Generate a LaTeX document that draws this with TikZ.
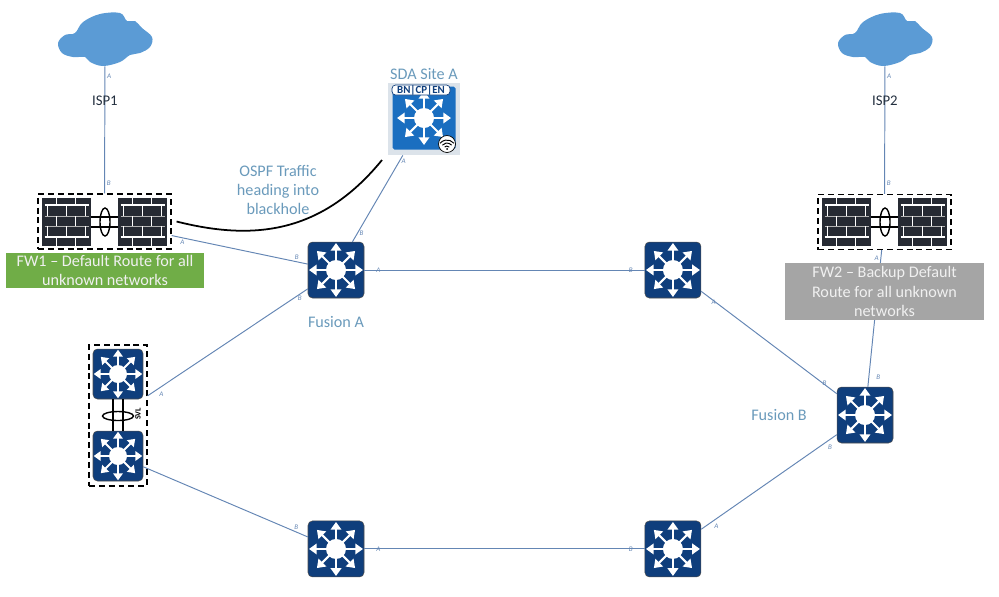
\documentclass[tikz,border=0pt]{standalone}
\usepackage{fontspec}
\setmainfont{Carlito}
\usepackage{tikz}
\usetikzlibrary{arrows.meta,shapes}

\definecolor{navy}{HTML}{0F3E7C}
\definecolor{sitebl}{HTML}{1A6EC0}
\definecolor{linkcol}{HTML}{6486B4}
\definecolor{textcol}{HTML}{6A9ABB}
\definecolor{cloudbl}{HTML}{5B9BD5}
\definecolor{brickcol}{HTML}{262A33}
\definecolor{notegreen}{HTML}{70AD47}
\definecolor{notegrey}{HTML}{A5A5A5}
\definecolor{sitebg}{HTML}{DCE3EA}

% eight arrows out of a white hub, #1 scales them to the box
\newcommand{\hubarrows}[1]{
	\begin{scope}[shift={(path picture bounding box.center)}]
		\fill[white] (0,0) circle (#1*10);
		\foreach \ang in {0,45,...,315}
			\draw[white,line width=#1*1.2pt,-{Triangle[length=#1*4.4pt,width=#1*6pt]}] (\ang:#1*9) -- (\ang:#1*27);
	\end{scope}
}
% brick courses of one firewall wall
\newcommand{\brickcourses}{
	\begin{scope}[shift={(path picture bounding box.center)},white]
		\foreach \yy in {-17,15}
			\draw[line width=.8pt] (-22,\yy) -- (22,\yy);
		\foreach \yy in {-6,4}
			\draw[white!70!black,line width=.5pt] (-22,\yy) -- (22,\yy);
		\foreach \yy/\yb in {-24/-17,-6/4,15/24}
			\foreach \xx in {-10,9}
				\draw[line width=.6pt] (\xx,\yy) -- (\xx,\yb);
		\foreach \yy/\yb in {-17/-6,4/15}
			\foreach \xx in {-19,0,19}
				\draw[line width=.6pt] (\xx,\yy) -- (\xx,\yb);
	\end{scope}
}
% outline of an internet cloud round the node #1
\newcommand{\cloudblob}[1]{
	\fill [cloudbl,shift={(#1.center)}] plot [smooth cycle,tension=.6] coordinates {(-47,4) (-40,-4) (-30,-6) (-22,-17) (-5,-25) (15,-26) (22,-18) (30,-18) (37,-11) (47,-2) (45,8) (35,14) (25,16) (15,23) (-2,27) (-15,23) (-20,18) (-32,18) (-43,14)};
}

\begin{document}
\begin{tikzpicture}[x=.02cm,y=-.02cm,node distance=2cm]

	\tikzstyle{switch}=[rectangle,rounded corners=2.5pt,fill=navy,draw=black!70,line width=.3pt,minimum size=1.12cm,inner sep=0pt,path picture={\hubarrows{1}}]
	\tikzstyle{svlswitch}=[switch,minimum size=1cm,path picture={\hubarrows{.9}}]
	\tikzstyle{bricks}=[rectangle,fill=brickcol,minimum width=.98cm,minimum height=.96cm,inner sep=0pt,path picture={\brickcourses}]
	\tikzstyle{dashbox}=[rectangle,draw=black,line width=.7pt,dash pattern=on 3.4pt off 2.2pt,inner sep=0pt]
	\tikzstyle{fwbox}=[dashbox,minimum width=2.66cm,minimum height=1.1cm]
	\tikzstyle{loopmark}=[ellipse,draw=black,line width=.8pt,inner sep=0pt]
	\tikzstyle{tie}=[draw=black,line width=.8pt]
	\tikzstyle{link}=[draw=linkcol,line width=.55pt]
	\tikzstyle{isp}=[rectangle,inner sep=0pt,minimum width=1.9cm,minimum height=1.08cm]
	\tikzstyle{ispname}=[font=\fontsize{8.4}{10}\selectfont,text=black!65!linkcol]
	\tikzstyle{tag}=[font=\fontsize{4}{4}\selectfont\itshape,text=linkcol,inner sep=1pt]
	\tikzstyle{caption}=[font=\fontsize{9.2}{11}\selectfont,text=textcol,align=center,inner sep=0pt]
	\tikzstyle{note}=[rectangle,font=\fontsize{9.2}{11}\selectfont,text=white!94!black,align=center,inner sep=0pt,minimum width=3.98cm]

	\useasboundingbox (0,0) rectangle (999,596);

	% switches of the ring
	\node [switch] (fusiona) at (336,270) {};
	\node [switch,node distance=6.74cm] (acctop) [right of=fusiona] {};
	\node [switch,node distance=5.58cm] (accleft) [below of=fusiona] {};
	\node [switch,node distance=6.74cm] (accright) [right of=accleft] {};
	\node [switch] (fusionb) at (865,415) {}
		edge [link] node [tag,pos=.06,above left] {B} node [tag,pos=.94,below right] {A} (acctop)
		edge [link] node [tag,pos=.08,below right] {B} node [tag,pos=.92,below right] {A} (accright);
	\node [caption,node distance=1.04cm] (fusionalabel) [below of=fusiona] {Fusion A};
	\node [caption,node distance=1.72cm] (fusionblabel) [left of=fusionb] {Fusion B};

	\path (fusiona) edge [link] node [tag,pos=.05] {A} node [tag,pos=.95] {B} (acctop);
	\path (accleft) edge [link] node [tag,pos=.05] {A} node [tag,pos=.95] {B} (accright);

	% stacked pair on the left
	\node [svlswitch] (svltop) at (118,374) {};
	\node [svlswitch] (svlbot) at (118,456) {};
	\node [dashbox,minimum width=1.16cm,minimum height=2.82cm] (svlbox) at (118,415.5) {}
		edge [link] node [tag,pos=.06,below right] {A} node [tag,pos=.95,below] {B} (fusiona);
	\path (svlbot) edge [link] node [tag,pos=.93,above] {B} (accleft);
	\draw [tie] ([xshift=-.1cm]svltop.south) -- ([xshift=-.1cm]svlbot.north);
	\draw [tie] ([xshift=.1cm]svltop.south) -- ([xshift=.1cm]svlbot.north);
	\node [loopmark,minimum width=.62cm,minimum height=.18cm] (svlloop) at (118,416) {};
	\node [font=\fontsize{4.6}{5}\bfseries\selectfont,rotate=90,inner sep=0pt] (svltext) at (138,414) {SVL};

	% firewall pairs
	\node [fwbox] (fw1) at (104.5,221.5) {}
		edge [link] node [tag,pos=.08,below] {A} node [tag,pos=.92,above] {B} (fusiona);
	\node [bricks] (fw1l) at (66.5,222) {};
	\node [bricks] (fw1r) at (142.5,222) {};
	\draw [tie] ([yshift=.1cm]fw1l.east) -- ([yshift=.1cm]fw1r.west);
	\draw [tie] ([yshift=-.1cm]fw1l.east) -- ([yshift=-.1cm]fw1r.west);
	\node [loopmark,minimum width=.2cm,minimum height=.56cm] (fw1loop) at (105,222) {};

	\node [fwbox] (fw2) at (884.5,222) {}
		edge [link] node [tag,pos=.06,left] {A} node [tag,pos=.93,right=3pt] {B} (fusionb);
	\node [bricks] (fw2l) at (846.5,222) {};
	\node [bricks] (fw2r) at (922.5,222) {};
	\draw [tie] ([yshift=.1cm]fw2l.east) -- ([yshift=.1cm]fw2r.west);
	\draw [tie] ([yshift=-.1cm]fw2l.east) -- ([yshift=-.1cm]fw2r.west);
	\node [loopmark,minimum width=.2cm,minimum height=.56cm] (fw2loop) at (885,222) {};

	% internet clouds
	\node [isp] (isp1) at (105,39) {}
		edge [link] node [pos=.27,ispname] {ISP1} node [tag,pos=.08,right] {A} node [tag,pos=.92,right] {B} (fw1);
	\cloudblob{isp1}
	\node [isp] (isp2) at (885,39) {}
		edge [link] node [pos=.27,ispname] {ISP2} node [tag,pos=.08,right] {A} node [tag,pos=.92,right] {B} (fw2);
	\cloudblob{isp2}

	% remote site
	\node [rectangle,fill=sitebg,minimum size=1.44cm,inner sep=0pt] (sda) at (424,119) {}
		edge [link] node [tag,pos=.07,right] {A} node [tag,pos=.9,right] {B} (fusiona);
	\node [switch,fill=sitebl,draw=none,rounded corners=1pt,minimum size=1.26cm] (sdaswitch) at (424,118) {};
	\node [rectangle,rounded corners=2pt,fill=white,draw=navy,line width=.4pt,minimum width=1.16cm,minimum height=.2cm,inner sep=0pt,font=\fontsize{6.2}{6.2}\bfseries\selectfont,text=navy] (sdaroles) at (421,90) {BN|CP|EN};
	\node [circle,fill=white,draw=black,line width=.4pt,minimum size=.34cm,inner sep=0pt] (sdawifi) at (447,144) {};
	\foreach \rad in {3,6,9}
		\draw [black,line width=.55pt] ([shift={(-40:\rad)}]447,149) arc (-40:-140:\rad);
	\fill [black] (447,149) circle (1);
	\node [caption,node distance=.9cm] (sdatitle) [above of=sda] {SDA Site A};

	% traffic path into the site
	\coordinate (holeend) at (382,160);
	\draw [black,line width=1pt] ([xshift=.1cm]fw1.east) .. controls (250,240) and (320,236) .. (holeend);
	\node [caption] (ospf) at (278,190) {OSPF Traffic\\heading into\\blackhole};

	% notes over the firewalls
	\node [note,fill=notegreen,minimum height=.7cm] (fw1note) at (105,270.5) {FW1 -- Default Route for all\\unknown networks};
	\node [note,fill=notegrey,minimum height=1.14cm] (fw2note) at (884.5,291.5) {FW2 -- Backup Default\\Route for all unknown\\networks};
\end{tikzpicture}
\end{document}
